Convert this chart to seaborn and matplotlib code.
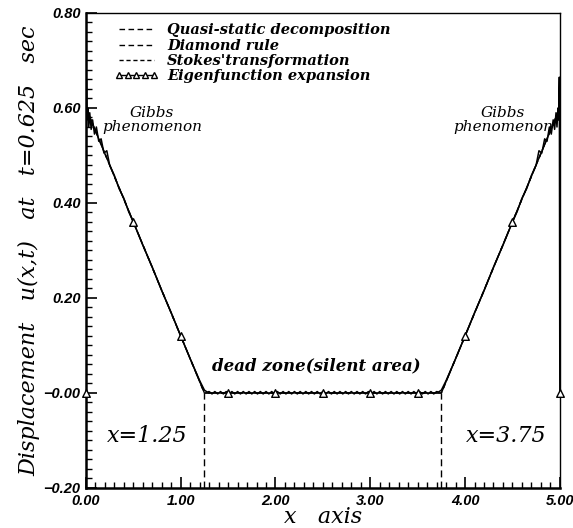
import numpy as np
import pandas as pd
import matplotlib
matplotlib.use("Agg")
import matplotlib.pyplot as plt
from matplotlib.lines import Line2D
from matplotlib.ticker import MultipleLocator, FixedLocator, FixedFormatter
import seaborn as sns

# ---------------- data ----------------
# exact / approximate solutions (all coincide)
exact_x = [0.0, 1.25, 3.75, 5.0]
exact_y = [0.60, 0.0, 0.0, 0.60]

# eigenfunction expansion (partial sum with Gibbs ringing)
eig_left_x = [0.0, 0.005, 0.012, 0.02, 0.03, 0.04, 0.055, 0.07, 0.09, 0.11, 0.135, 0.16,
              0.19, 0.22, 0.25, 0.3, 0.35, 0.4, 0.45, 0.5, 0.6, 0.7, 0.8, 0.9, 1.0,
              1.1, 1.2, 1.25, 1.28]
eig_left_y = [0.0, 0.66, 0.575, 0.60, 0.56, 0.59, 0.555, 0.575, 0.545, 0.56, 0.53, 0.535,
              0.505, 0.51, 0.48, 0.458, 0.43, 0.41, 0.382, 0.36, 0.311, 0.265, 0.215, 0.169, 0.12,
              0.072, 0.026, 0.006, 0.002]
eig_dead_x = [1.30, 1.33, 1.36, 1.39, 1.42, 1.45, 1.48, 1.51, 1.54, 1.57, 1.60, 1.63, 1.66,
              1.69, 1.72, 1.75, 1.78, 1.81, 1.84, 1.87, 1.90, 1.93, 1.96, 1.99, 2.02, 2.05,
              2.08, 2.11, 2.14, 2.17, 2.20, 2.23, 2.26, 2.29, 2.32, 2.35, 2.38, 2.41, 2.44,
              2.47, 2.50, 2.53, 2.56, 2.59, 2.62, 2.65, 2.68, 2.71, 2.74, 2.77, 2.80, 2.83,
              2.86, 2.89, 2.92, 2.95, 2.98, 3.01, 3.04, 3.07, 3.10, 3.13, 3.16, 3.19, 3.22,
              3.25, 3.28, 3.31, 3.34, 3.37, 3.40, 3.43, 3.46, 3.49, 3.52, 3.55, 3.58, 3.61,
              3.64, 3.67, 3.70]
eig_dead_y = [0.003, -0.002, 0.003, -0.002, 0.003, -0.002, 0.003, -0.002, 0.003, -0.002,
              0.003, -0.002, 0.003, -0.002, 0.003, -0.002, 0.003, -0.002, 0.003, -0.002,
              0.003, -0.002, 0.003, -0.002, 0.003, -0.002, 0.003, -0.002, 0.003, -0.002,
              0.003, -0.002, 0.003, -0.002, 0.003, -0.002, 0.003, -0.002, 0.003, -0.002,
              0.003, -0.002, 0.003, -0.002, 0.003, -0.002, 0.003, -0.002, 0.003, -0.002,
              0.003, -0.002, 0.003, -0.002, 0.003, -0.002, 0.003, -0.002, 0.003, -0.002,
              0.003, -0.002, 0.003, -0.002, 0.003, -0.002, 0.003, -0.002, 0.003, -0.002,
              0.003, -0.002, 0.003, -0.002, 0.003, -0.002, 0.003, -0.002, 0.003, -0.002,
              0.003]
eig_right_x = [3.72, 3.75, 3.8, 3.9, 4.0, 4.1, 4.2, 4.3, 4.4, 4.5, 4.55, 4.6, 4.65, 4.7,
               4.75, 4.78, 4.81, 4.84, 4.865, 4.89, 4.91, 4.93, 4.945, 4.96, 4.97, 4.98,
               4.988, 4.995, 5.0]
eig_right_y = [0.002, 0.006, 0.026, 0.072, 0.12, 0.169, 0.215, 0.265, 0.311, 0.36, 0.382,
               0.41, 0.43, 0.458, 0.48, 0.51, 0.505, 0.535, 0.53, 0.56, 0.545, 0.575, 0.555,
               0.59, 0.56, 0.60, 0.575, 0.665, 0.0]

# eigenfunction expansion sampled at marker points
mark_x = [0.0, 0.5, 1.0, 1.5, 2.0, 2.5, 3.0, 3.5, 4.0, 4.5, 5.0]
mark_y = [0.0, 0.36, 0.12, 0.0, 0.0, 0.0, 0.0, 0.0, 0.12, 0.36, 0.0]

front_x = [1.25, 3.75]

x_ticks = [0.0, 1.0, 2.0, 3.0, 4.0, 5.0]
x_ticklabels = ["0.00", "1.00", "2.00", "3.00", "4.00", "5.00"]
y_ticks = [-0.2, 0.0, 0.2, 0.4, 0.6, 0.8]
y_ticklabels = ["\u22120.20", "\u22120.00", "0.20", "0.40", "0.60", "0.80"]

labels = ["Quasi-static decomposition", "Diamond rule",
          "Stokes'transformation", "Eigenfunction expansion"]

# ---------------- plot ----------------
sns.set_theme(style="ticks")
plt.rcParams["font.family"] = ["DejaVu Serif"]
plt.rcParams["text.color"] = "black"
plt.rcParams["axes.labelcolor"] = "black"

fig = plt.figure(figsize=(5.73, 5.28), dpi=100)
ax = fig.add_axes([0.150, 0.0758, 0.827, 0.8996])

eig_x = eig_left_x + eig_dead_x + eig_right_x
eig_y = eig_left_y + eig_dead_y + eig_right_y
df_eig = pd.DataFrame({"x": eig_x, "y": eig_y})
df_ex = pd.DataFrame({"x": exact_x, "y": exact_y})
df_mk = pd.DataFrame({"x": mark_x, "y": mark_y})

sns.lineplot(data=df_eig, x="x", y="y", ax=ax, color="black", lw=1.1,
             sort=False, estimator=None, legend=False)
for ls in [(0, (6, 3)), (3, (6, 3)), (0, (4, 2))]:
    sns.lineplot(data=df_ex, x="x", y="y", ax=ax, color="black", lw=1.0,
                 linestyle=ls, sort=False, estimator=None, legend=False)
sns.scatterplot(data=df_mk, x="x", y="y", ax=ax, marker="^", s=30,
                facecolor="white", edgecolor="black", linewidth=1.0,
                legend=False, zorder=5, clip_on=False)

ax.vlines(front_x, -0.2, 0.0, colors="black", linestyles=(0, (5, 3)), lw=1.0)

ax.set_xlim(0, 5)
ax.set_ylim(-0.2, 0.8)
ax.xaxis.set_major_locator(FixedLocator(x_ticks))
ax.xaxis.set_major_formatter(FixedFormatter(x_ticklabels))
ax.yaxis.set_major_locator(FixedLocator(y_ticks))
ax.yaxis.set_major_formatter(FixedFormatter(y_ticklabels))
ax.xaxis.set_minor_locator(MultipleLocator(0.1))
ax.yaxis.set_minor_locator(MultipleLocator(0.02))
ax.tick_params(which="major", direction="in", length=8, width=1.2, color="black",
               top=False, right=False, pad=4)
ax.tick_params(which="minor", direction="in", length=4.5, width=1.0, color="black",
               top=False, right=False)
for lab in ax.get_xticklabels() + ax.get_yticklabels():
    lab.set_family("Liberation Sans")
    lab.set_style("italic")
    lab.set_weight("bold")
    lab.set_fontsize(10.5)
    lab.set_color("black")

for side in ["left", "bottom"]:
    ax.spines[side].set_linewidth(1.8)
for side in ["top", "right"]:
    ax.spines[side].set_linewidth(1.0)
for s in ax.spines.values():
    s.set_color("black")

ax.set_xlabel("x   axis", fontsize=16, style="italic", labelpad=-1, color="black")
ax.set_ylabel("Displacement   u(x,t)   at   t=0.625   sec", fontsize=16,
              style="italic", labelpad=2, color="black")

txt = dict(style="italic", color="black", ha="center")
ax.text(0.70, 0.575, "Gibbs\nphenomenon", fontsize=11, va="center",
        linespacing=1.0, **txt)
ax.text(4.40, 0.575, "Gibbs\nphenomenon", fontsize=11, va="center",
        linespacing=1.0, **txt)
ax.text(2.43, 0.058, "dead zone(silent area)", fontsize=12, weight="bold",
        va="center", **txt)
ax.text(0.65, -0.09, "x=1.25", fontsize=16, va="center", **txt)
ax.text(4.43, -0.09, "x=3.75", fontsize=16, va="center", **txt)

handles = [
    Line2D([], [], color="black", lw=1.0, linestyle=(0, (4, 2.5))),
    Line2D([], [], color="black", lw=1.0, linestyle=(0, (4, 2.5))),
    Line2D([], [], color="black", lw=1.0, linestyle=(0, (3, 2))),
    Line2D([], [], color="black", lw=1.0, marker="^", markersize=5,
           markerfacecolor="white", markeredgecolor="black"),
]
leg = ax.legend(handles, labels, loc="upper left", bbox_to_anchor=(0.06, 0.978),
                frameon=False, borderaxespad=0, borderpad=0, handlelength=3.0,
                handletextpad=0.6, labelspacing=0.08, numpoints=5,
                labelcolor="black",
                prop=dict(family="DejaVu Serif", style="italic", weight="bold",
                          size=10.5))

fig.savefig("out.png", dpi=100, facecolor="white")
